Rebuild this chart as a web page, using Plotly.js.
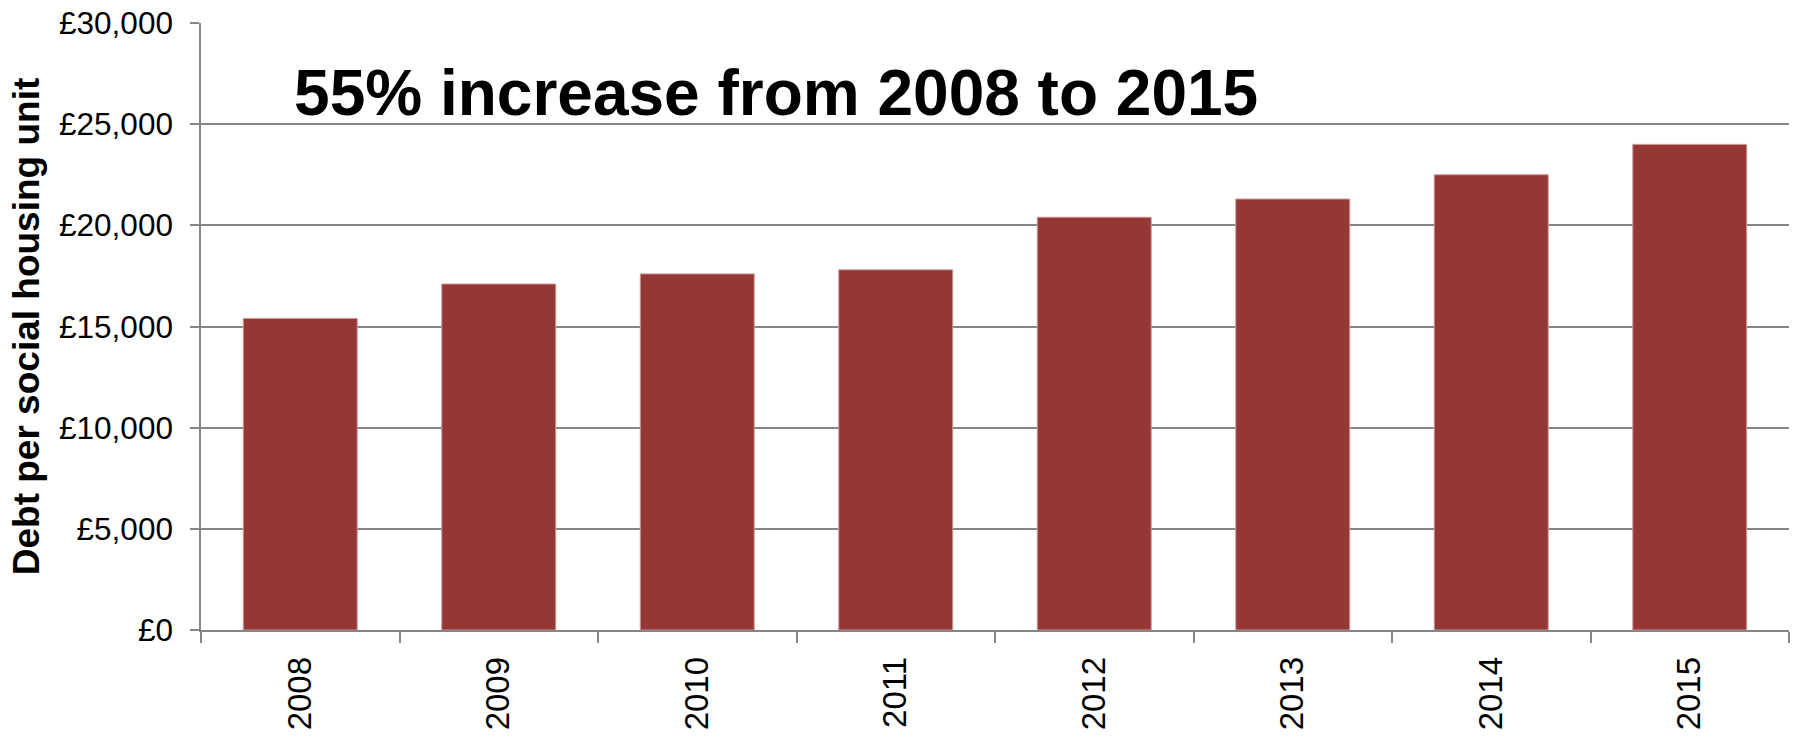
<!DOCTYPE html>
<html>
<head>
<meta charset="utf-8">
<script src="https://cdn.plot.ly/plotly-3.0.1.min.js"></script>
<style>html,body{margin:0;padding:0;background:#fff;}#chart{width:1794px;height:739px;}</style>
</head>
<body>
<div id="chart"></div>
<script>
const years = ['2008','2009','2010','2011','2012','2013','2014','2015'];
const debtPerUnit = [15400, 17100, 17600, 17800, 20400, 21300, 22500, 24000];
const chartTitle = '55% increase from 2008 to 2015';
const yTitle = 'Debt per social housing unit';

const FONT = '"Liberation Sans", Arial, sans-serif';
const GRID = '#868686';

const trace = {
  type: 'bar',
  x: years,
  y: debtPerUnit,
  marker: {color: '#953735', line: {color: '#c99a99', width: 1}},
  hoverinfo: 'x+y'
};

const layout = {
  width: 1794,
  height: 739,
  margin: {l: 201, r: 5, t: 23, b: 108.5},
  paper_bgcolor: '#ffffff',
  plot_bgcolor: '#ffffff',
  showlegend: false,
  bargap: 0.426,
  font: {family: FONT, color: '#000000'},
  title: {
    text: '<b>' + chartTitle + '</b>',
    font: {family: FONT, size: 64, color: '#000000'},
    xref: 'paper', yref: 'paper',
    x: 0.0586, xanchor: 'left',
    y: 0.885, yanchor: 'middle'
  },
  xaxis: {
    type: 'category',
    showline: true, linecolor: GRID, linewidth: 1.5,
    ticks: 'outside', tickson: 'boundaries', ticklen: 11, tickcolor: GRID, tickwidth: 1.5,
    tickangle: -90,
    ticklabelstandoff: 12,
    tickfont: {family: FONT, size: 33, color: '#000000'},
    showgrid: false,
    zeroline: false
  },
  yaxis: {
    range: [0, 30000],
    dtick: 5000,
    tick0: 0,
    tickprefix: '£',
    tickformat: ',d',
    showline: true, linecolor: GRID, linewidth: 1.5,
    ticks: 'outside', ticklen: 9, tickcolor: GRID, tickwidth: 1.5,
    ticklabelstandoff: 11,
    tickfont: {family: FONT, size: 31.5, color: '#000000'},
    showgrid: true, gridcolor: GRID, gridwidth: 1.5,
    zeroline: false,
    title: {
      text: '<b>' + yTitle + '</b>',
      font: {family: FONT, size: 37, color: '#000000'},
      standoff: 8
    }
  }
};

Plotly.newPlot('chart', [trace], layout, {displayModeBar: false, responsive: false});
</script>
</body>
</html>
